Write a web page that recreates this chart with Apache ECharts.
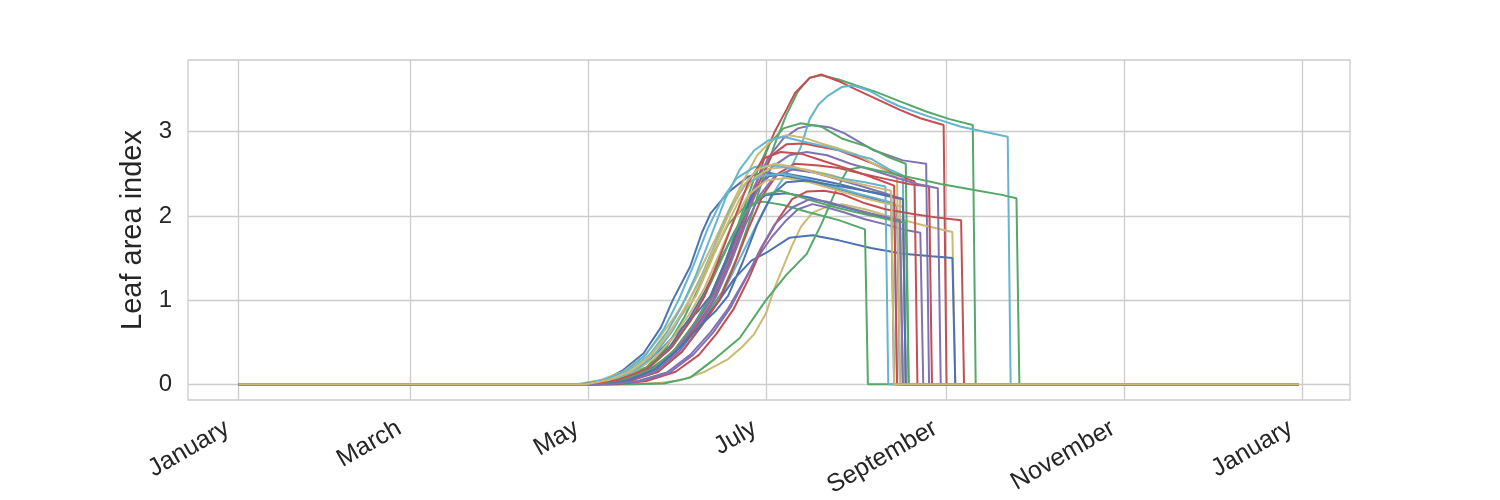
<!DOCTYPE html>
<html>
<head>
<meta charset="utf-8">
<script src="https://cdn.jsdelivr.net/npm/echarts@6/dist/echarts.min.js"></script>
<style>
html,body{margin:0;padding:0;background:#fff;}
#chart{width:1500px;height:500px;}
</style>
</head>
<body>
<div id="chart"></div>
<script>
// Tick positions (day of year) and labels
const monthTickDays = [0, 59, 120, 181, 243, 304, 365];
const monthTickLabels = ['January', 'March', 'May', 'July', 'September', 'November', 'January'];
const yTickValues = [0, 1, 2, 3];
const yAxisTitle = 'Leaf area index';

// Leaf area index per simulation: [day of year, LAI]
const b1 = [[0,0],[118,0],[126,0.06],[132,0.17],[139,0.37],[145,0.68],[149,1.0],[155,1.4],[159,1.8],[162,2.03],[168,2.28],[175,2.47],[181,2.52],[190,2.46],[200,2.38],[210,2.28],[220,2.18],[226,2.12],[227,0],[364,0]];
const g1 = [[0,0],[120,0],[130,0.04],[140,0.15],[148,0.35],[155,0.6],[161,0.85],[166,1.1],[171,1.5],[176,2.0],[180,2.45],[184,2.85],[188,3.2],[192,3.48],[196,3.64],[200,3.67],[206,3.62],[212,3.55],[219,3.47],[227,3.36],[236,3.24],[244,3.15],[252,3.08],[253,0],[364,0]];
const r1 = [[0,0],[121,0],[131,0.04],[141,0.15],[149,0.38],[156,0.7],[162,1.0],[167,1.4],[172,1.85],[177,2.3],[181,2.75],[184,3.0],[188,3.26],[191,3.46],[196,3.64],[200,3.68],[206,3.6],[212,3.5],[217,3.42],[222,3.34],[227,3.26],[234,3.16],[242,3.08],[243,0],[364,0]];
const p1 = [[0,0],[121,0],[131,0.04],[141,0.15],[149,0.38],[156,0.7],[162,1.05],[167,1.45],[172,1.9],[177,2.35],[182,2.7],[187,2.92],[192,3.04],[197,3.08],[203,3.05],[208,2.98],[213,2.88],[218,2.78],[228,2.66],[236,2.62],[237,0],[364,0]];
const y1 = [[0,0],[135,0],[145,0.02],[152,0.05],[160,0.15],[168,0.3],[173,0.45],[177,0.6],[181,0.84],[184,1.15],[187,1.4],[190,1.65],[193,1.87],[197,2.04],[202,2.11],[207,2.14],[215,2.08],[225,1.98],[235,1.89],[245,1.81],[246,0],[364,0]];
const c1 = [[0,0],[124,0],[134,0.04],[144,0.15],[152,0.38],[159,0.7],[165,1.0],[170,1.35],[175,1.7],[180,2.05],[185,2.35],[190,2.6],[193,2.82],[196,3.15],[199,3.32],[202,3.42],[207,3.53],[211,3.55],[217,3.48],[222,3.38],[227,3.3],[237,3.18],[248,3.06],[256,3.0],[264,2.94],[265,0],[364,0]];
const b2 = [[0,0],[122,0],[132,0.05],[140,0.15],[147,0.3],[153,0.5],[160,0.78],[165,1.0],[170,1.25],[176,1.47],[181,1.56],[189,1.74],[197,1.77],[206,1.71],[217,1.62],[228,1.55],[238,1.52],[245,1.5],[246,0],[364,0]];
const g2 = [[0,0],[122,0],[132,0.05],[142,0.18],[150,0.42],[157,0.75],[162,1.05],[167,1.45],[172,1.95],[177,2.45],[182,2.85],[187,3.04],[193,3.1],[200,3.06],[207,2.92],[216,2.82],[223,2.7],[229,2.62],[230,0],[364,0]];
const r2 = [[0,0],[122,0],[132,0.04],[142,0.15],[150,0.38],[157,0.68],[163,1.0],[168,1.4],[173,1.85],[178,2.35],[183,2.72],[188,2.85],[194,2.86],[200,2.82],[206,2.78],[212,2.7],[218,2.62],[225,2.5],[232,2.41],[233,0],[364,0]];
const p2 = [[0,0],[127,0],[137,0.04],[147,0.14],[155,0.35],[162,0.62],[168,0.9],[173,1.2],[178,1.5],[183,1.75],[188,1.95],[192,2.08],[197,2.14],[202,2.1],[208,2.04],[215,1.96],[222,1.9],[228,1.84],[234,1.8],[235,0],[364,0]];
const y2 = [[0,0],[116,0],[124,0.05],[132,0.15],[139,0.33],[145,0.58],[150,0.82],[154,1.05],[159,1.4],[164,1.75],[168,2.05],[173,2.4],[178,2.72],[183,2.9],[188,2.96],[194,2.93],[200,2.86],[206,2.8],[212,2.73],[219,2.6],[226,2.46],[227,0],[364,0]];
const c2 = [[0,0],[118,0],[126,0.05],[134,0.16],[141,0.35],[147,0.62],[152,0.92],[157,1.3],[162,1.75],[167,2.2],[172,2.55],[177,2.78],[182,2.9],[187,2.94],[194,2.88],[202,2.82],[210,2.74],[217,2.68],[223,2.56],[228,2.48],[229,0],[364,0]];
const b3 = [[0,0],[120,0],[130,0.05],[140,0.2],[148,0.45],[155,0.8],[160,1.1],[165,1.45],[170,1.8],[175,2.1],[181,2.25],[188,2.27],[196,2.22],[205,2.13],[215,2.04],[224,1.96],[227,1.94],[228,0],[364,0]];
const g3 = [[0,0],[120,0],[130,0.05],[140,0.2],[147,0.45],[153,0.8],[158,1.15],[163,1.55],[168,1.9],[174,2.12],[180,2.17],[187,2.13],[195,2.05],[206,1.95],[215,1.84],[216,0],[364,0]];
const r3 = [[0,0],[124,0],[134,0.04],[144,0.15],[152,0.38],[159,0.7],[165,1.0],[170,1.4],[175,1.85],[180,2.25],[185,2.5],[191,2.62],[199,2.6],[206,2.57],[214,2.5],[222,2.44],[230,2.38],[237,2.35],[238,0],[364,0]];
const p3 = [[0,0],[122,0],[132,0.04],[142,0.15],[150,0.4],[157,0.72],[163,1.05],[168,1.45],[173,1.9],[178,2.3],[183,2.58],[189,2.72],[195,2.76],[202,2.72],[210,2.62],[218,2.54],[226,2.45],[233,2.38],[240,2.33],[241,0],[364,0]];
const y3 = [[0,0],[118,0],[126,0.05],[134,0.15],[141,0.33],[147,0.58],[152,0.82],[157,1.05],[162,1.45],[167,1.85],[172,2.2],[177,2.45],[182,2.56],[188,2.58],[195,2.55],[204,2.48],[212,2.38],[220,2.28],[227,2.2],[228,0],[364,0]];
const c3 = [[0,0],[117,0],[125,0.05],[133,0.16],[140,0.36],[146,0.66],[151,1.0],[156,1.4],[161,1.85],[166,2.2],[171,2.45],[177,2.58],[184,2.6],[192,2.55],[200,2.5],[208,2.44],[215,2.4],[222,2.35],[223,0],[364,0]];
const b4 = [[0,0],[118,0],[128,0.05],[138,0.2],[146,0.45],[153,0.7],[158,0.88],[162,1.05],[167,1.45],[172,1.9],[177,2.3],[182,2.47],[188,2.5],[196,2.45],[206,2.38],[215,2.3],[224,2.24],[225,0],[364,0]];
const g4 = [[0,0],[136,0],[146,0.01],[155,0.08],[163,0.29],[172,0.55],[181,1.0],[188,1.3],[195,1.55],[200,1.9],[205,2.3],[209,2.55],[214,2.58],[229,2.47],[241,2.38],[252,2.31],[262,2.25],[267,2.21],[268,0],[364,0]];
const r4 = [[0,0],[130,0],[140,0.04],[150,0.15],[158,0.35],[164,0.6],[170,0.9],[175,1.25],[180,1.65],[185,1.95],[190,2.2],[195,2.29],[201,2.3],[207,2.26],[215,2.15],[222,2.08],[232,2.02],[240,1.98],[248,1.95],[249,0],[364,0]];
const p4 = [[0,0],[123,0],[133,0.04],[143,0.15],[151,0.38],[158,0.7],[164,1.05],[169,1.45],[174,1.9],[179,2.25],[184,2.47],[190,2.55],[197,2.52],[205,2.44],[213,2.36],[221,2.28],[228,2.2],[229,0],[364,0]];
const y4 = [[0,0],[120,0],[128,0.05],[136,0.15],[143,0.32],[149,0.55],[155,0.85],[160,1.15],[165,1.55],[170,1.95],[175,2.25],[181,2.42],[188,2.45],[196,2.4],[205,2.31],[214,2.22],[222,2.15],[228,2.11],[229,0],[364,0]];
const c4 = [[0,0],[120,0],[128,0.05],[136,0.16],[143,0.36],[149,0.64],[154,0.95],[159,1.3],[164,1.7],[169,2.1],[174,2.38],[180,2.48],[187,2.5],[195,2.44],[204,2.35],[213,2.26],[220,2.2],[225,2.15],[226,0],[364,0]];
const b5 = [[0,0],[124,0],[134,0.05],[143,0.18],[151,0.42],[158,0.68],[164,0.88],[168,1.05],[173,1.45],[178,1.9],[183,2.25],[188,2.4],[195,2.42],[205,2.36],[215,2.3],[225,2.22],[228,2.2],[229,0],[364,0]];
const g5 = [[0,0],[121,0],[131,0.05],[141,0.2],[149,0.45],[156,0.8],[162,1.2],[168,1.65],[174,2.05],[180,2.25],[186,2.3],[195,2.2],[205,2.1],[215,2.02],[224,1.95],[229,1.92],[230,0],[364,0]];
const r5 = [[0,0],[120,0],[130,0.05],[140,0.18],[148,0.42],[155,0.75],[160,1.05],[165,1.5],[170,1.95],[175,2.4],[180,2.68],[186,2.76],[193,2.74],[201,2.65],[210,2.55],[218,2.45],[225,2.36],[226,0],[364,0]];
const p5 = [[0,0],[128,0],[138,0.04],[148,0.14],[156,0.35],[163,0.62],[169,0.92],[174,1.25],[179,1.6],[184,1.9],[190,2.1],[196,2.2],[202,2.17],[209,2.1],[217,2.03],[227,1.95],[228,0],[364,0]];
const y5 = [[0,0],[119,0],[127,0.05],[135,0.16],[142,0.36],[148,0.62],[153,0.9],[158,1.2],[163,1.6],[168,2.0],[173,2.35],[178,2.55],[184,2.62],[191,2.58],[199,2.5],[208,2.42],[216,2.36],[224,2.3],[225,0],[364,0]];

const allRuns = [b1,g1,r1,p1,y1,c1, b2,g2,r2,p2,y2,c2, b3,g3,r3,p3,y3,c3, b4,g4,r4,p4,y4,c4, b5,g5,r5,p5,y5];

const palette = ['#4C72B0', '#55A868', '#C44E52', '#8172B2', '#CCB974', '#64B5CD'];
const textColor = '#262626';
const gridColor = '#cccccc';
const fontFamily = '"Liberation Sans", Arial, sans-serif';

const chart = echarts.init(document.getElementById('chart'), null, {renderer: 'canvas'});
chart.setOption({
  animation: false,
  color: palette,
  grid: {
    left: 188, right: 150, top: 60, bottom: 100,
    show: true, borderColor: gridColor, borderWidth: 1.3, backgroundColor: '#ffffff'
  },
  xAxis: {
    type: 'value',
    min: -17.4, max: 381.5,
    axisLine: {show: false},
    axisTick: {show: false, customValues: monthTickDays},
    splitLine: {show: true, lineStyle: {color: gridColor, width: 1.3}},
    axisLabel: {
      customValues: monthTickDays,
      rotate: 30,
      margin: 20,
      padding: [0, 13, 0, 0],
      color: textColor,
      fontSize: 25,
      fontFamily: fontFamily,
      formatter: function (v) {
        const i = monthTickDays.indexOf(Math.round(v));
        return i >= 0 ? monthTickLabels[i] : '';
      }
    }
  },
  yAxis: {
    type: 'value',
    min: -0.186, max: 3.852,
    name: yAxisTitle,
    nameLocation: 'middle',
    nameGap: 34,
    nameTextStyle: {color: textColor, fontSize: 29, fontFamily: fontFamily},
    axisLine: {show: false},
    axisTick: {show: false, customValues: yTickValues},
    splitLine: {show: true, lineStyle: {color: gridColor, width: 1.3}},
    axisLabel: {
      customValues: yTickValues,
      margin: 16,
      color: textColor,
      fontSize: 24,
      fontFamily: fontFamily,
      formatter: function (v) { return String(Math.round(v)); }
    }
  },
  series: allRuns.map(function (d) {
    return {
      type: 'line',
      data: d,
      showSymbol: false,
      symbol: 'none',
      lineStyle: {width: 2},
      silent: true
    };
  })
});
</script>
</body>
</html>
